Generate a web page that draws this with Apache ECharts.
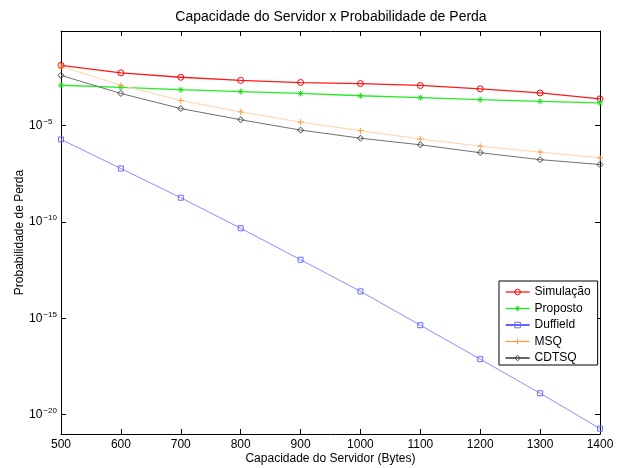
<!DOCTYPE html>
<html>
<head>
<meta charset="utf-8">
<title>Capacidade do Servidor x Probabilidade de Perda</title>
<script src="https://cdn.jsdelivr.net/npm/echarts@6/dist/echarts.min.js"></script>
<style>
  html, body { margin: 0; padding: 0; background: #fff; }
  #chart { width: 618px; height: 468px; }
</style>
</head>
<body>
<div id="chart"></div>
<script>
// Server capacity (bytes)
const capacidade = [500, 600, 700, 800, 900, 1000, 1100, 1200, 1300, 1400];

// Loss probability for each method
const simulacao = [1.32e-2, 5.4e-3, 3.2e-3, 2.2e-3, 1.7e-3, 1.5e-3, 1.2e-3, 8.0e-4, 4.9e-4, 2.4e-4];
const proposto  = [1.23e-3, 9.5e-4, 7.2e-4, 5.8e-4, 4.6e-4, 3.5e-4, 2.8e-4, 2.2e-4, 1.8e-4, 1.5e-4];
const duffield  = [1.9e-6, 5.9e-8, 1.8e-9, 4.7e-11, 1.1e-12, 2.5e-14, 4.4e-16, 7.6e-18, 1.3e-19, 1.9e-21];
const msq       = [1.17e-2, 1.23e-3, 2.0e-4, 5.1e-5, 1.5e-5, 5.4e-6, 2.0e-6, 8.5e-7, 4.2e-7, 2.1e-7];
const cdtsq     = [4.0e-3, 4.6e-4, 7.6e-5, 2.0e-5, 5.8e-6, 2.2e-6, 1.0e-6, 3.9e-7, 1.7e-7, 9.5e-8];

// Tick values
const xTicks = [500, 600, 700, 800, 900, 1000, 1100, 1200, 1300, 1400];
const yTicks = [1e-20, 1e-15, 1e-10, 1e-5];

const FONT = '"Liberation Sans", Arial, Helvetica, sans-serif';

const PLUS = 'path://M5,0L5,10M0,5L10,5';
const STAR = 'path://M5,0L5,10M0,5L10,5M1.5,1.5L8.5,8.5M1.5,8.5L8.5,1.5';

function pairs(ys) {
  return capacidade.map((x, i) => [x, ys[i]]);
}

function expLabel(v) {
  const e = Math.round(Math.log10(v));
  if (e % 5 !== 0 || e === 0) return '';
  return '{b|10}{e|' + (e < 0 ? '\u2212' : '') + Math.abs(e) + '}';
}

const seriesDefs = [
  { name: 'Simulação', data: simulacao, line: '#ff1a1a', mark: '#ff0000', symbol: 'circle',  size: 6, width: 1.3, legendLine: '#ff0000' },
  { name: 'Proposto',  data: proposto,  line: '#22ee22', mark: '#22dd22', symbol: STAR,      size: 6, width: 1.3, legendLine: '#00ff00' },
  { name: 'Duffield',  data: duffield,  line: '#8c8cff', mark: '#6b6bff', symbol: 'rect',    size: 5, width: 1,   legendLine: '#0000ff' },
  { name: 'MSQ',       data: msq,       line: '#ffd3a8', mark: '#ff9a40', symbol: PLUS,      size: 6, width: 1,   legendLine: '#ff9933' },
  { name: 'CDTSQ',     data: cdtsq,     line: '#707070', mark: '#444444', symbol: 'diamond', size: 6, width: 1,   legendLine: '#000000' }
];

// Open markers: transparent fill, thin coloured outline
const series = seriesDefs.map(d => ({
  name: d.name,
  type: 'line',
  xAxisIndex: 0,
  yAxisIndex: 0,
  data: pairs(d.data),
  symbol: d.symbol,
  symbolSize: d.size,
  showAllSymbol: true,
  lineStyle: { color: d.line, width: d.width },
  itemStyle: { color: 'rgba(255,255,255,0)', borderColor: d.mark, borderWidth: 1 },
  emphasis: { disabled: true },
  animation: false,
  z: 3
}));

const baseX = {
  type: 'value',
  min: 500,
  max: 1400,
  interval: 100,
  splitLine: { show: false },
  axisLine: { show: true, onZero: false, lineStyle: { color: '#000', width: 1 } },
  axisTick: { show: true, inside: true, length: 5, lineStyle: { color: '#000' } }
};

const baseY = {
  type: 'log',
  logBase: 10,
  min: 1e-21,
  max: 0.8,
  splitLine: { show: false },
  axisLine: { show: true, onZero: false, lineStyle: { color: '#000', width: 1 } },
  axisTick: { show: true, inside: true, length: 5, customValues: yTicks, lineStyle: { color: '#000' } }
};

const option = {
  backgroundColor: '#fff',
  animation: false,
  title: {
    text: 'Capacidade do Servidor x Probabilidade de Perda',
    left: 331,
    top: 10,
    padding: 0,
    textAlign: 'center',
    textStyle: { fontFamily: FONT, fontSize: 14, fontWeight: 'normal', color: '#000' }
  },
  grid: { left: 61, right: 18, top: 31, bottom: 34, containLabel: false, outerBoundsMode: 'none' },
  xAxis: [
    Object.assign({}, baseX, {
      position: 'bottom',
      name: 'Capacidade do Servidor (Bytes)',
      nameLocation: 'middle',
      nameGap: 19,
      nameMoveOverlap: false,
      nameTextStyle: { fontFamily: FONT, fontSize: 12, color: '#000' },
      axisLabel: {
        show: true, margin: 5, fontFamily: FONT, fontSize: 12, color: '#000',
        customValues: xTicks,
        formatter: v => String(v)
      }
    }),
    Object.assign({}, baseX, {
      position: 'top',
      axisLabel: { show: false }
    })
  ],
  yAxis: [
    Object.assign({}, baseY, {
      position: 'left',
      name: 'Probabilidade de Perda',
      nameLocation: 'middle',
      nameGap: 35,
      nameMoveOverlap: false,
      nameTextStyle: { fontFamily: FONT, fontSize: 12, color: '#000' },
      axisLabel: {
        show: true,
        customValues: yTicks,
        align: 'left',
        margin: 32,
        formatter: expLabel,
        rich: {
          b: { fontFamily: FONT, fontSize: 12, color: '#000' },
          e: { fontFamily: FONT, fontSize: 8, color: '#000', padding: [0, 0, 8, 1] }
        }
      }
    }),
    Object.assign({}, baseY, {
      position: 'right',
      axisLabel: { show: false }
    })
  ],
  legend: {
    orient: 'vertical',
    left: 499,
    top: 281,
    padding: [5, 7, 1, 6],
    itemGap: 4.5,
    itemWidth: 24,
    itemHeight: 7,
    backgroundColor: '#fff',
    borderColor: '#000',
    borderWidth: 1,
    borderRadius: 0,
    selectedMode: false,
    textStyle: { fontFamily: FONT, fontSize: 12, color: '#000' },
    data: seriesDefs.map(d => ({
      name: d.name,
      lineStyle: { color: d.legendLine, width: 1.2 },
      itemStyle: { color: 'rgba(255,255,255,0)', borderColor: d.mark, borderWidth: 1 }
    }))
  },
  series: series
};

const chart = echarts.init(document.getElementById('chart'), null, { renderer: 'canvas' });
chart.setOption(option);
</script>
</body>
</html>
